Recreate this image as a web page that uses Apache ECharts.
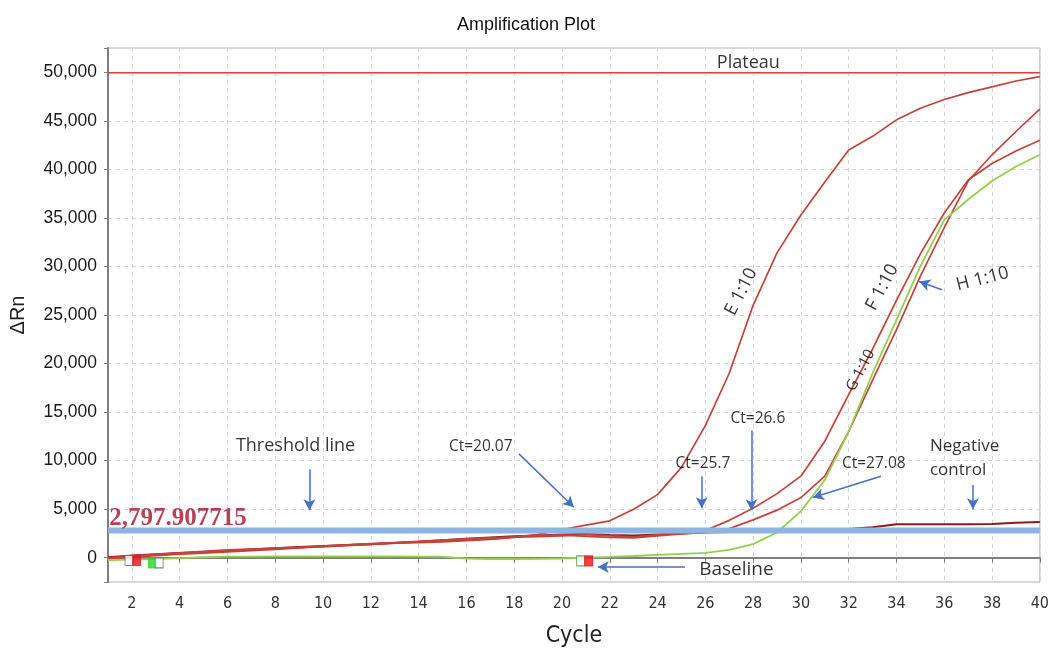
<!DOCTYPE html>
<html>
<head>
<meta charset="utf-8">
<title>Amplification Plot</title>
<script src="https://cdn.jsdelivr.net/npm/echarts@6/dist/echarts.min.js"></script>
<style>
  html, body { margin: 0; padding: 0; background: #fff; }
  #chart { width: 1052px; height: 653px; }
</style>
</head>
<body>
<div id="chart"></div>
<script>
// cycles and delta Rn per well
const cycles = [1, 2, 3, 4, 5, 6, 7, 8, 9, 10, 11, 12, 13, 14, 15, 16, 17, 18, 19, 20,
  21, 22, 23, 24, 25, 26, 27, 28, 29, 30, 31, 32, 33, 34, 35, 36, 37, 38, 39, 40]

const wellE = [-100, 60, 220, 360, 480, 600, 720, 860, 1000, 1150, 1300, 1420, 1500, 1560, 1640, 1760, 1900, 2100, 2400, 2900,
  3350, 3800, 5000, 6500, 9300, 13600, 19000, 26000, 31400, 35300, 38700, 42000, 43400, 45100, 46300, 47200, 47900, 48500, 49100, 49550]

const wellF = [0, 200, 350, 500, 650, 800, 900, 980, 1060, 1150, 1250, 1380, 1530, 1680, 1820, 1950, 2050, 2120, 2180, 2250,
  2380, 2250, 2150, 2350, 2550, 2800, 3850, 5100, 6600, 8400, 12000, 16800, 21500, 26500, 31300, 35500, 38900, 40600, 41900, 43000]

const wellH = [-50, 120, 280, 420, 560, 700, 820, 930, 1050, 1200, 1330, 1450, 1550, 1630, 1700, 1800, 1950, 2150, 2300, 2350,
  2200, 2100, 2050, 2250, 2450, 2600, 3000, 3900, 4900, 6200, 8400, 13000, 18300, 23500, 29000, 34000, 38800, 41500, 43900, 46200]

const wellG = [-250, -200, -150, -50, 50, 110, 120, 130, 130, 130, 130, 130, 130, 120, 100, -100, -130, -130, -120, -80,
  0, 80, 180, 300, 400, 500, 800, 1400, 2600, 4800, 8000, 13000, 19000, 24500, 30000, 34800, 36900, 38800, 40300, 41500]

const negControl = [50, 220, 350, 480, 600, 720, 850, 980, 1100, 1200, 1300, 1400, 1520, 1650, 1800, 1950, 2080, 2200, 2300, 2400,
  2450, 2350, 2300, 2400, 2500, 2600, 2650, 2700, 2750, 2800, 2850, 2950, 3150, 3450, 3450, 3450, 3460, 3480, 3600, 3680]

const threshold = 2797.907715
const plateau = 49950

// baseline start / end markers (cycle, value)
const baselineCycles = [1.88, 2.2, 2.86, 3.14, 20.78, 21.12]
const baselineValues = [-280, -280, -530, -530, -330, -330]

const pairs = arr => cycles.map((c, i) => [c, arr[i]])
const first = cycles[0]
const last = cycles[cycles.length - 1]

const chart = echarts.init(document.getElementById('chart'))

const noteFont = "'Open Sans', 'Noto Sans', sans-serif"
const narrow = "'Liberation Sans Narrow', 'DejaVu Sans Condensed', 'Liberation Sans', sans-serif"

const notes = [
  { text: 'Plateau', at: [27.8, 51000], size: 18 },
  { text: 'Threshold line', at: [8.85, 11470], size: 18 },
  { text: 'Ct=20.07', at: [16.6, 11470], size: 15.5 },
  { text: 'Ct=25.7', at: [25.9, 9720], size: 15.5 },
  { text: 'Ct=26.6', at: [28.2, 14340], size: 15.5 },
  { text: 'Ct=27.08', at: [33.05, 9720], size: 15.5 },
  { text: 'Negative\ncontrol', at: [35.4, 10240], size: 17, align: 'left', lineHeight: 24 },
  { text: 'Baseline', at: [27.3, -1250], size: 19 },
  { text: 'E 1:10', at: [27.5, 27400], size: 18, rotate: 63 },
  { text: 'F 1:10', at: [33.4, 27850], size: 18, rotate: 62 },
  { text: 'G 1:10', at: [32.5, 19300], size: 15, rotate: 62 },
  { text: 'H 1:10', at: [37.6, 28700], size: 18, rotate: 14 },
  { text: '2,797.907715', at: [1.05, 4000], size: 25, align: 'left', color: '#a8122a',
    family: "'Liberation Serif', 'DejaVu Serif', serif", weight: 'bold' }
]

const arrows = [
  [[9.43, 9100], [9.43, 4900]],
  [[18.2, 10700], [20.5, 5200]],
  [[25.85, 8400], [25.85, 5100]],
  [[27.93, 13100], [27.93, 4900]],
  [[33.35, 8400], [30.5, 6200]],
  [[37.2, 7500], [37.2, 5000]],
  [[25.15, -950], [21.5, -950]],
  [[35.9, 27600], [34.95, 28450]]
]

const redLine = (name, data) => ({
  name,
  type: 'line',
  data: pairs(data),
  symbol: 'none',
  lineStyle: { color: '#c4443a', width: 1.7 },
  z: 3
})

const option = {
  backgroundColor: '#fff',
  animation: false,
  title: {
    text: 'Amplification Plot',
    left: 'center',
    top: 11,
    textStyle: { fontFamily: "'Liberation Sans', Arial, sans-serif", fontSize: 18, fontWeight: 'normal', color: '#111' }
  },
  grid: {
    left: 108,
    right: 9,
    top: 48,
    bottom: 68,
    show: true,
    borderColor: '#b5b5b5',
    borderWidth: 1
  },
  xAxis: {
    type: 'value',
    min: first,
    max: last,
    splitNumber: 20,
    name: 'Cycle',
    nameLocation: 'middle',
    nameGap: 43,
    nameTextStyle: { fontFamily: narrow, fontSize: 23, color: '#222' },
    axisLine: { lineStyle: { color: '#7f7f7f', width: 2 } },
    axisTick: { length: 5, lineStyle: { color: '#7f7f7f' } },
    axisLabel: {
      margin: 14,
      fontFamily: narrow,
      fontSize: 16,
      color: '#333',
      formatter: v => (v % 2 === 0 ? String(v) : '')
    },
    splitLine: { show: true, lineStyle: { color: '#d6d6d6', type: [4, 4] } }
  },
  yAxis: {
    type: 'value',
    min: -2500,
    max: 52500,
    splitNumber: 11,
    name: '\u0394Rn',
    nameLocation: 'middle',
    nameGap: 80,
    nameTextStyle: { fontFamily: "'Liberation Sans', Arial, sans-serif", fontSize: 20, color: '#222' },
    axisLine: { show: true, lineStyle: { color: '#7f7f7f', width: 2 } },
    axisTick: { show: true, length: 4, lineStyle: { color: '#7f7f7f' } },
    axisLabel: {
      margin: 11,
      fontFamily: "'Liberation Sans', Arial, sans-serif",
      fontSize: 17.5,
      color: '#1a1a1a',
      formatter: v => (v % 5000 === 0 ? v.toLocaleString('en-US') : '')
    },
    splitLine: { show: true, lineStyle: { color: '#d6d6d6', type: [4, 4] } }
  },
  series: [
    {
      name: 'Negative control',
      type: 'line',
      data: pairs(negControl),
      symbol: 'none',
      lineStyle: { color: '#8e1b1b', width: 2 },
      z: 3
    },
    redLine('E 1:10', wellE),
    redLine('F 1:10', wellF),
    redLine('H 1:10', wellH),
    {
      name: 'G 1:10',
      type: 'line',
      data: pairs(wellG),
      symbol: 'none',
      lineStyle: { color: '#92d050', width: 1.8 },
      z: 4
    },
    {
      name: 'Plateau',
      type: 'line',
      data: [[first, plateau], [last, plateau]],
      symbol: 'none',
      lineStyle: { color: '#e23b3b', width: 1.5 },
      z: 4
    },
    {
      name: 'Threshold',
      type: 'line',
      data: [[first, threshold], [last, threshold]],
      symbol: 'none',
      lineStyle: { color: '#8db4e2', width: 6 },
      z: 5
    },
    {
      name: 'Baseline markers',
      type: 'scatter',
      symbol: 'rect',
      symbolSize: [8, 10],
      z: 6,
      data: baselineCycles.map((c, i) => ({
        value: [c, baselineValues[i]],
        itemStyle: {
          color: ['#ffffff', '#e8141c', '#2bd62b', '#ffffff', '#ffffff', '#e8141c'][i],
          borderColor: ['#666', '#e8141c', '#2bd62b', '#666', '#3a9a3a', '#e8141c'][i],
          borderWidth: 1
        }
      }))
    },
    {
      name: 'Notes',
      type: 'scatter',
      symbolSize: 0,
      z: 7,
      silent: true,
      data: notes.map(n => ({
        value: n.at,
        label: {
          show: true,
          position: 'inside',
          formatter: n.text,
          rotate: n.rotate || 0,
          align: n.align || 'center',
          verticalAlign: 'middle',
          fontFamily: n.family || noteFont,
          fontSize: n.size,
          fontWeight: n.weight || 'normal',
          lineHeight: n.lineHeight || n.size * 1.2,
          color: n.color || '#000'
        }
      })),
      markLine: {
        silent: true,
        symbol: ['none', 'arrow'],
        symbolSize: [9, 11],
        label: { show: false },
        lineStyle: { color: '#4472c4', width: 1.5, type: 'solid' },
        data: arrows.map(([a, b]) => [{ coord: a }, { coord: b }])
      }
    }
  ]
}

chart.setOption(option)
window.addEventListener('resize', () => chart.resize())
</script>
</body>
</html>
